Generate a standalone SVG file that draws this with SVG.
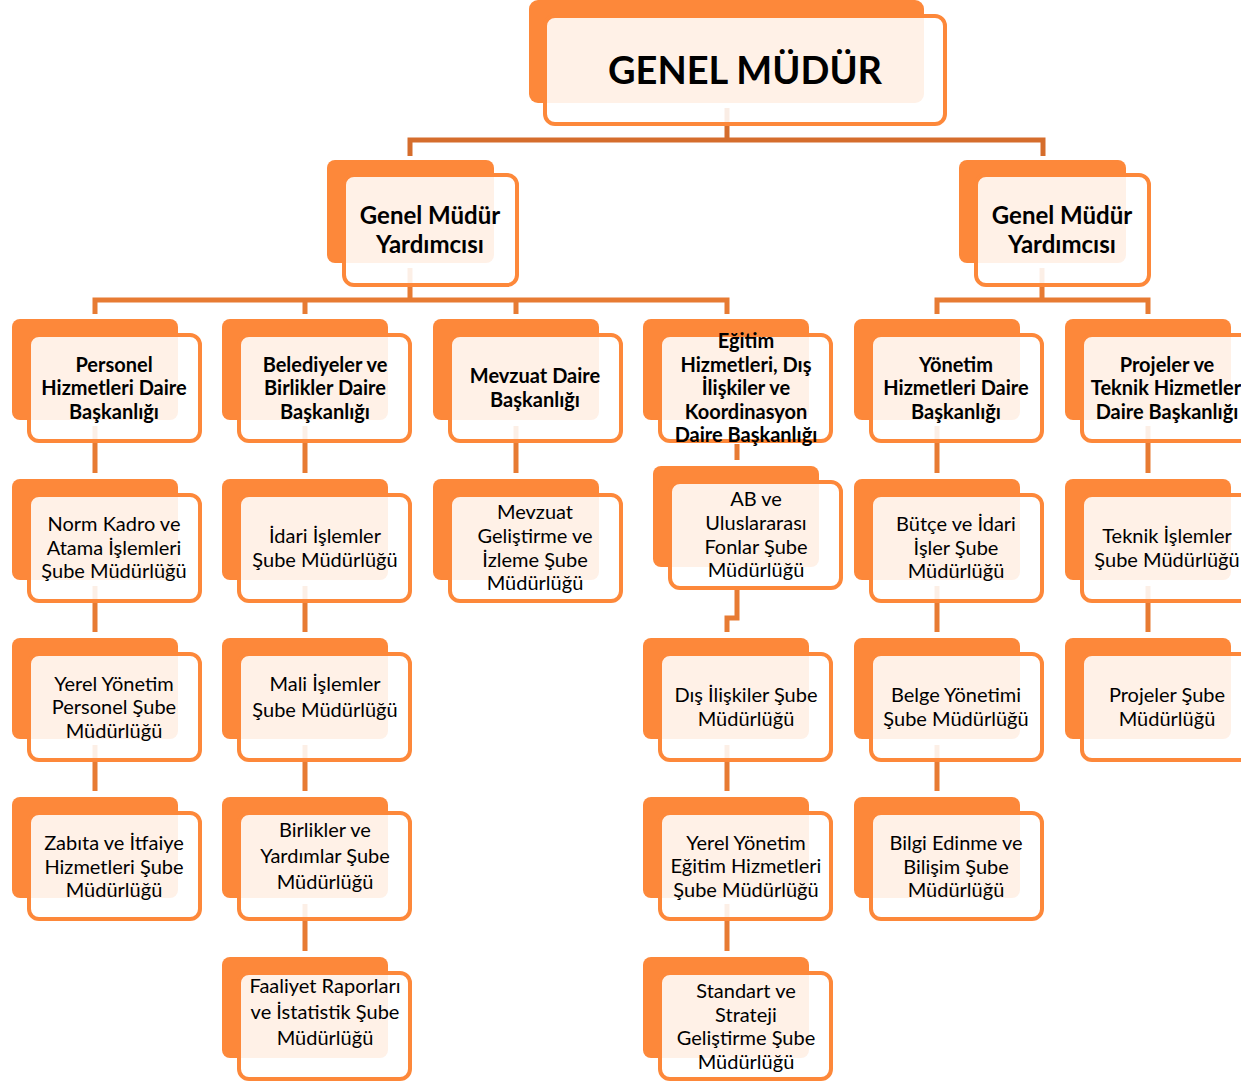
<svg xmlns="http://www.w3.org/2000/svg" width="1241" height="1082" viewBox="0 0 1241 1082">
<style>
.bk{fill:#FD883A}
.fr{fill:#FFFFFF;fill-opacity:0.88;stroke:#FD883A;stroke-width:4}
.ln{fill:none;stroke:#E77B33;stroke-width:5}
.lt{fill:none;stroke:#D56D2C;stroke-width:5}
text{font-family:Lato,"Liberation Sans",sans-serif;fill:#000;text-anchor:middle}
.b{font-weight:bold;font-size:20px}
.r{font-size:20px}
.g{font-weight:bold;font-size:24px}
.t{font-weight:bold;font-size:38px}
</style>
<g id="connectors">
<path class="lt" d="M727 108 V140 M410 156 V140 H1043 V156"/>
<path class="ln" d="M410 268 V300 M95 314 V300 H727 V314 M305 300 V314 M516 300 V314"/>
<path class="ln" d="M1042 268 V300 M937 314 V300 H1148 V314"/>
<path class="ln" d="M95 426 V473 M95 586 V632 M95 745 V791"/>
<path class="ln" d="M305 426 V473 M305 586 V632 M305 745 V791 M305 904 V951"/>
<path class="ln" d="M516 426 V473"/>
<path class="ln" d="M737 444 V460 M737 590 V618 H727 V632 M727 745 V791 M727 904 V951"/>
<path class="ln" d="M937 426 V473 M937 586 V632 M937 745 V791"/>
<path class="ln" d="M1148 426 V473 M1148 586 V632"/>
</g>
<g id="genel-mudur">
<rect class="bk" x="529" y="0" width="395" height="103" rx="9"/>
<rect class="fr" x="545" y="16" width="400" height="108" rx="10"/>
<text class="t" x="745" y="84">GENEL MÜDÜR</text>
</g>
<g id="gmy-1">
<rect class="bk" x="327" y="160" width="167" height="103" rx="8"/>
<rect class="fr" x="344" y="175" width="173" height="110" rx="10"/>
<text class="g" x="430" y="224">Genel Müdür</text>
<text class="g" x="430" y="253">Yardımcısı</text>
</g>
<g id="gmy-2">
<rect class="bk" x="959" y="160" width="167" height="103" rx="8"/>
<rect class="fr" x="976" y="175" width="173" height="110" rx="10"/>
<text class="g" x="1062" y="224">Genel Müdür</text>
<text class="g" x="1062" y="253">Yardımcısı</text>
</g>
<g id="personel">
<rect class="bk" x="12" y="319" width="166" height="101" rx="8"/>
<rect class="fr" x="29" y="335" width="171" height="106" rx="10"/>
<text class="b" x="114" y="372">Personel</text>
<text class="b" x="114" y="395">Hizmetleri Daire</text>
<text class="b" x="114" y="419">Başkanlığı</text>
</g>
<g id="belediyeler">
<rect class="bk" x="222" y="319" width="166" height="101" rx="8"/>
<rect class="fr" x="239" y="335" width="171" height="106" rx="10"/>
<text class="b" x="325" y="372">Belediyeler ve</text>
<text class="b" x="325" y="395">Birlikler Daire</text>
<text class="b" x="325" y="419">Başkanlığı</text>
</g>
<g id="mevzuat-daire">
<rect class="bk" x="433" y="319" width="166" height="101" rx="8"/>
<rect class="fr" x="450" y="335" width="171" height="106" rx="10"/>
<text class="b" x="535" y="383">Mevzuat Daire</text>
<text class="b" x="535" y="407">Başkanlığı</text>
</g>
<g id="egitim-daire">
<rect class="bk" x="643" y="319" width="166" height="101" rx="8"/>
<rect class="fr" x="660" y="335" width="171" height="106" rx="10"/>
<text class="b" x="746" y="348">Eğitim</text>
<text class="b" x="746" y="372">Hizmetleri, Dış</text>
<text class="b" x="746" y="395">İlişkiler ve</text>
<text class="b" x="746" y="419">Koordinasyon</text>
<text class="b" x="746" y="442">Daire Başkanlığı</text>
</g>
<g id="yonetim-daire">
<rect class="bk" x="854" y="319" width="166" height="101" rx="8"/>
<rect class="fr" x="871" y="335" width="171" height="106" rx="10"/>
<text class="b" x="956" y="372">Yönetim</text>
<text class="b" x="956" y="395">Hizmetleri Daire</text>
<text class="b" x="956" y="419">Başkanlığı</text>
</g>
<g id="projeler-daire">
<rect class="bk" x="1065" y="319" width="166" height="101" rx="8"/>
<rect class="fr" x="1082" y="335" width="171" height="106" rx="10"/>
<text class="b" x="1167" y="372">Projeler ve</text>
<text class="b" x="1166" y="395">Teknik Hizmetler</text>
<text class="b" x="1167" y="419">Daire Başkanlığı</text>
</g>
<g id="norm-kadro">
<rect class="bk" x="12" y="479" width="166" height="101" rx="8"/>
<rect class="fr" x="29" y="495" width="171" height="106" rx="10"/>
<text class="r" x="114" y="531">Norm Kadro ve</text>
<text class="r" x="114" y="555">Atama İşlemleri</text>
<text class="r" x="114" y="578">Şube Müdürlüğü</text>
</g>
<g id="idari-islemler">
<rect class="bk" x="222" y="479" width="166" height="101" rx="8"/>
<rect class="fr" x="239" y="495" width="171" height="106" rx="10"/>
<text class="r" x="325" y="543">İdari İşlemler</text>
<text class="r" x="325" y="567">Şube Müdürlüğü</text>
</g>
<g id="mevzuat-gelistirme">
<rect class="bk" x="433" y="479" width="166" height="101" rx="8"/>
<rect class="fr" x="450" y="495" width="171" height="106" rx="10"/>
<text class="r" x="535" y="519">Mevzuat</text>
<text class="r" x="535" y="543">Geliştirme ve</text>
<text class="r" x="535" y="567">İzleme Şube</text>
<text class="r" x="535" y="590">Müdürlüğü</text>
</g>
<g id="ab-fonlar">
<rect class="bk" x="653" y="466" width="166" height="101" rx="8"/>
<rect class="fr" x="670" y="482" width="171" height="106" rx="10"/>
<text class="r" x="756" y="506">AB ve</text>
<text class="r" x="756" y="530">Uluslararası</text>
<text class="r" x="756" y="554">Fonlar Şube</text>
<text class="r" x="756" y="577">Müdürlüğü</text>
</g>
<g id="butce-idari">
<rect class="bk" x="854" y="479" width="166" height="101" rx="8"/>
<rect class="fr" x="871" y="495" width="171" height="106" rx="10"/>
<text class="r" x="956" y="531">Bütçe ve İdari</text>
<text class="r" x="956" y="555">İşler Şube</text>
<text class="r" x="956" y="578">Müdürlüğü</text>
</g>
<g id="teknik-islemler">
<rect class="bk" x="1065" y="479" width="166" height="101" rx="8"/>
<rect class="fr" x="1082" y="495" width="171" height="106" rx="10"/>
<text class="r" x="1167" y="543">Teknik İşlemler</text>
<text class="r" x="1167" y="567">Şube Müdürlüğü</text>
</g>
<g id="yerel-personel">
<rect class="bk" x="12" y="638" width="166" height="101" rx="8"/>
<rect class="fr" x="29" y="654" width="171" height="106" rx="10"/>
<text class="r" x="114" y="691">Yerel Yönetim</text>
<text class="r" x="114" y="714">Personel Şube</text>
<text class="r" x="114" y="738">Müdürlüğü</text>
</g>
<g id="mali-islemler">
<rect class="bk" x="222" y="638" width="166" height="101" rx="8"/>
<rect class="fr" x="239" y="654" width="171" height="106" rx="10"/>
<text class="r" x="325" y="691">Mali İşlemler</text>
<text class="r" x="325" y="717">Şube Müdürlüğü</text>
</g>
<g id="dis-iliskiler">
<rect class="bk" x="643" y="638" width="166" height="101" rx="8"/>
<rect class="fr" x="660" y="654" width="171" height="106" rx="10"/>
<text class="r" x="746" y="702">Dış İlişkiler Şube</text>
<text class="r" x="746" y="726">Müdürlüğü</text>
</g>
<g id="belge-yonetimi">
<rect class="bk" x="854" y="638" width="166" height="101" rx="8"/>
<rect class="fr" x="871" y="654" width="171" height="106" rx="10"/>
<text class="r" x="956" y="702">Belge Yönetimi</text>
<text class="r" x="956" y="726">Şube Müdürlüğü</text>
</g>
<g id="projeler-sube">
<rect class="bk" x="1065" y="638" width="166" height="101" rx="8"/>
<rect class="fr" x="1082" y="654" width="171" height="106" rx="10"/>
<text class="r" x="1167" y="702">Projeler Şube</text>
<text class="r" x="1167" y="726">Müdürlüğü</text>
</g>
<g id="zabita-itfaiye">
<rect class="bk" x="12" y="797" width="166" height="101" rx="8"/>
<rect class="fr" x="29" y="813" width="171" height="106" rx="10"/>
<text class="r" x="114" y="850">Zabıta ve İtfaiye</text>
<text class="r" x="114" y="874">Hizmetleri Şube</text>
<text class="r" x="114" y="897">Müdürlüğü</text>
</g>
<g id="birlikler-yardimlar">
<rect class="bk" x="222" y="797" width="166" height="101" rx="8"/>
<rect class="fr" x="239" y="813" width="171" height="106" rx="10"/>
<text class="r" x="325" y="837">Birlikler ve</text>
<text class="r" x="325" y="863">Yardımlar Şube</text>
<text class="r" x="325" y="889">Müdürlüğü</text>
</g>
<g id="yerel-egitim">
<rect class="bk" x="643" y="797" width="166" height="101" rx="8"/>
<rect class="fr" x="660" y="813" width="171" height="106" rx="10"/>
<text class="r" x="746" y="850">Yerel Yönetim</text>
<text class="r" x="746" y="873">Eğitim Hizmetleri</text>
<text class="r" x="746" y="897">Şube Müdürlüğü</text>
</g>
<g id="bilgi-edinme">
<rect class="bk" x="854" y="797" width="166" height="101" rx="8"/>
<rect class="fr" x="871" y="813" width="171" height="106" rx="10"/>
<text class="r" x="956" y="850">Bilgi Edinme ve</text>
<text class="r" x="956" y="874">Bilişim Şube</text>
<text class="r" x="956" y="897">Müdürlüğü</text>
</g>
<g id="faaliyet-raporlari">
<rect class="bk" x="222" y="957" width="166" height="101" rx="8"/>
<rect class="fr" x="239" y="973" width="171" height="106" rx="10"/>
<text class="r" x="325" y="993">Faaliyet Raporları</text>
<text class="r" x="325" y="1019">ve İstatistik Şube</text>
<text class="r" x="325" y="1045">Müdürlüğü</text>
</g>
<g id="standart-strateji">
<rect class="bk" x="643" y="957" width="166" height="101" rx="8"/>
<rect class="fr" x="660" y="973" width="171" height="106" rx="10"/>
<text class="r" x="746" y="998">Standart ve</text>
<text class="r" x="746" y="1022">Strateji</text>
<text class="r" x="746" y="1045">Geliştirme Şube</text>
<text class="r" x="746" y="1069">Müdürlüğü</text>
</g>
</svg>
